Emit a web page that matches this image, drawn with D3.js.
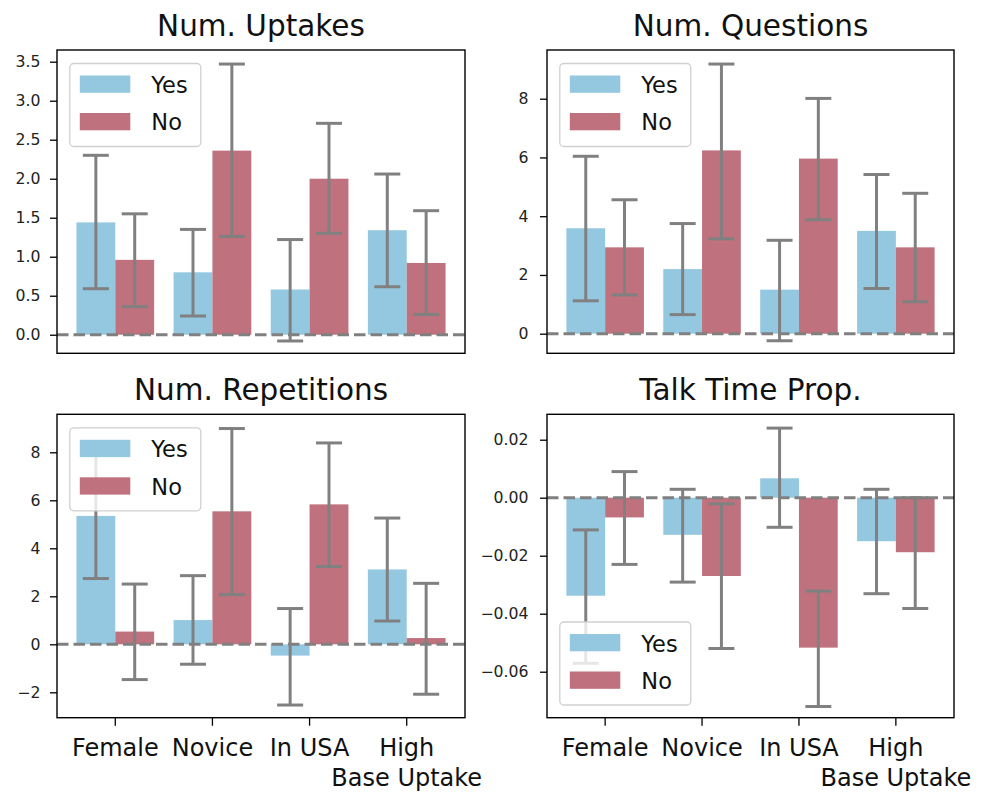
<!DOCTYPE html>
<html>
<head>
<meta charset="utf-8">
<script src="https://cdn.jsdelivr.net/npm/d3@7"></script>
<style>
  html, body { margin: 0; padding: 0; background: #ffffff; }
  svg { display: block; font-family: "DejaVu Sans", sans-serif; }
</style>
</head>
<body>
<div id="chart"></div>
<script>
// ---------------- DATA ----------------
const categories = ["Female", "Novice", "In USA", "High\nBase Uptake"];
const groups = ["Yes", "No"];
const panelTitles = ["Num. Uptakes", "Num. Questions", "Num. Repetitions", "Talk Time Prop."];

// Num. Uptakes
const uptakesYes   = [1.44, 0.80, 0.58, 1.34];
const uptakesYesLo = [0.59, 0.24, -0.08, 0.615];
const uptakesYesHi = [2.30, 1.35, 1.22, 2.06];
const uptakesNo    = [0.96, 2.36, 2.00, 0.92];
const uptakesNoLo  = [0.36, 1.26, 1.30, 0.26];
const uptakesNoHi  = [1.55, 3.47, 2.71, 1.59];

// Num. Questions
const questionsYes   = [3.59, 2.20, 1.50, 3.50];
const questionsYesLo = [1.12, 0.65, -0.24, 1.54];
const questionsYesHi = [6.04, 3.75, 3.18, 5.42];
const questionsNo    = [2.94, 6.24, 5.96, 2.94];
const questionsNoLo  = [1.32, 3.23, 3.88, 1.09];
const questionsNoHi  = [4.56, 9.18, 8.01, 4.78];

// Num. Repetitions
const repetitionsYes   = [5.35, 1.01, -0.47, 3.12];
const repetitionsYesLo = [2.74, -0.83, -2.53, 0.97];
const repetitionsYesHi = [8.10, 2.86, 1.49, 5.26];
const repetitionsNo    = [0.53, 5.54, 5.83, 0.26];
const repetitionsNoLo  = [-1.47, 2.07, 3.24, -2.08];
const repetitionsNoHi  = [2.51, 8.99, 8.39, 2.54];

// Talk Time Prop.
const talkYes   = [-0.0338, -0.0128, 0.0067, -0.0150];
const talkYesLo = [-0.0571, -0.0291, -0.0102, -0.0331];
const talkYesHi = [-0.0111, 0.0029, 0.0240, 0.0029];
const talkNo    = [-0.0068, -0.0270, -0.0517, -0.0188];
const talkNoLo  = [-0.0230, -0.0520, -0.0720, -0.0382];
const talkNoHi  = [0.0090, -0.0021, -0.0322, 0.0000];

// Tick values per panel
const uptakesTicks = [0, 0.5, 1.0, 1.5, 2.0, 2.5, 3.0, 3.5];
const questionsTicks = [0, 2, 4, 6, 8];
const repetitionsTicks = [-2, 0, 2, 4, 6, 8];
const talkTicks = [-0.06, -0.04, -0.02, 0.00, 0.02];

// Axis limits per panel
const uptakesDomain = [-0.238, 3.65];
const questionsDomain = [-0.667, 9.658];
const repetitionsDomain = [-3.058, 9.583];
const talkDomain = [-0.07586, 0.02876];

// ---------------- STYLE / LAYOUT ----------------
const W = 982, H = 796;
const colors = { Yes: "#94c8e1", No: "#bf717d" };
const errColor = "#808080";
const fmtMinus = s => s.replace("-", "\u2212");

const panels = [
  { title: panelTitles[0], yes: uptakesYes, yesLo: uptakesYesLo, yesHi: uptakesYesHi,
    no: uptakesNo, noLo: uptakesNoLo, noHi: uptakesNoHi, ticks: uptakesTicks, domain: uptakesDomain,
    fmt: d3.format(".1f"), x0: 57, x1: 465, y0: 50, y1: 353.3, bottom: false, legend: "upper" },
  { title: panelTitles[1], yes: questionsYes, yesLo: questionsYesLo, yesHi: questionsYesHi,
    no: questionsNo, noLo: questionsNoLo, noHi: questionsNoHi, ticks: questionsTicks, domain: questionsDomain,
    fmt: d3.format("d"), x0: 547, x1: 954, y0: 50, y1: 353.3, bottom: false, legend: "upper" },
  { title: panelTitles[2], yes: repetitionsYes, yesLo: repetitionsYesLo, yesHi: repetitionsYesHi,
    no: repetitionsNo, noLo: repetitionsNoLo, noHi: repetitionsNoHi, ticks: repetitionsTicks, domain: repetitionsDomain,
    fmt: d3.format("d"), x0: 57, x1: 465, y0: 414.3, y1: 717.7, bottom: true, legend: "upper" },
  { title: panelTitles[3], yes: talkYes, yesLo: talkYesLo, yesHi: talkYesHi,
    no: talkNo, noLo: talkNoLo, noHi: talkNoHi, ticks: talkTicks, domain: talkDomain,
    fmt: d3.format(".2f"), x0: 547, x1: 954, y0: 414.3, y1: 717.7, bottom: true, legend: "lower" }
];

const svg = d3.select("#chart").append("svg")
  .attr("width", W).attr("height", H);

panels.forEach(p => {
  const g = svg.append("g");

  const x = d3.scaleBand().domain(categories).range([p.x0, p.x1])
    .paddingInner(0.2).paddingOuter(0.2);
  const xs = d3.scaleBand().domain(groups).range([0, x.bandwidth()]);
  const y = d3.scaleLinear().domain(p.domain).range([p.y1, p.y0]);

  const rows = [];
  categories.forEach((c, i) => {
    rows.push({ cat: c, grp: "Yes", v: p.yes[i], lo: p.yesLo[i], hi: p.yesHi[i] });
    rows.push({ cat: c, grp: "No", v: p.no[i], lo: p.noLo[i], hi: p.noHi[i] });
  });

  // bars
  g.append("g").selectAll("rect").data(rows).join("rect")
    .attr("x", d => x(d.cat) + xs(d.grp))
    .attr("width", xs.bandwidth())
    .attr("y", d => Math.min(y(d.v), y(0)))
    .attr("height", d => Math.abs(y(d.v) - y(0)))
    .attr("fill", d => colors[d.grp]);

  // zero dashed line
  g.append("line")
    .attr("x1", p.x0).attr("x2", p.x1)
    .attr("y1", y(0)).attr("y2", y(0))
    .attr("stroke", errColor).attr("stroke-width", 3)
    .attr("stroke-dasharray", "11.5,5");

  // error bars
  const eb = g.append("g").attr("stroke", errColor).attr("stroke-width", 3).attr("fill", "none");
  rows.forEach(d => {
    const cx = x(d.cat) + xs(d.grp) + xs.bandwidth() / 2;
    eb.append("line").attr("x1", cx).attr("x2", cx).attr("y1", y(d.lo)).attr("y2", y(d.hi));
    eb.append("line").attr("x1", cx - 13).attr("x2", cx + 13).attr("y1", y(d.lo)).attr("y2", y(d.lo));
    eb.append("line").attr("x1", cx - 13).attr("x2", cx + 13).attr("y1", y(d.hi)).attr("y2", y(d.hi));
  });

  // y axis
  const yAxis = d3.axisLeft(y).tickValues(p.ticks).tickSize(7).tickPadding(8)
    .tickFormat(d => fmtMinus(p.fmt(d)));
  const ya = g.append("g").attr("transform", `translate(${p.x0},0)`).call(yAxis);
  ya.select(".domain").remove();
  ya.selectAll(".tick line").attr("stroke", "#000").attr("stroke-width", 1.3);
  ya.selectAll(".tick text").attr("font-size", "15.7px").attr("fill", "#222")
    .attr("font-family", "DejaVu Sans");
  if (p.x0 > 500) ya.selectAll(".tick text").attr("x", -18.5);
  else ya.selectAll(".tick text").attr("x", -16.5);

  // x axis (bottom row only)
  if (p.bottom) {
    const xAxis = d3.axisBottom(x).tickSize(8).tickFormat("");
    const xa = g.append("g").attr("transform", `translate(0,${p.y1})`).call(xAxis);
    xa.select(".domain").remove();
    xa.selectAll(".tick line").attr("stroke", "#000").attr("stroke-width", 1.3);
    categories.forEach(c => {
      const lines = c.split("\n");
      const t = g.append("text")
        .attr("x", x(c) + x.bandwidth() / 2)
        .attr("y", p.y1 + 38.5)
        .attr("text-anchor", "middle")
        .attr("font-size", "24px")
        .attr("fill", "#111");
      lines.forEach((ln, k) => {
        t.append("tspan").attr("x", x(c) + x.bandwidth() / 2)
          .attr("dy", k === 0 ? 0 : 29.5).text(ln);
      });
    });
  }

  // frame
  g.append("rect")
    .attr("x", p.x0).attr("y", p.y0)
    .attr("width", p.x1 - p.x0).attr("height", p.y1 - p.y0)
    .attr("fill", "none").attr("stroke", "#000").attr("stroke-width", 1.4);

  // title
  g.append("text")
    .attr("x", (p.x0 + p.x1) / 2).attr("y", p.y0 - 14)
    .attr("text-anchor", "middle")
    .attr("font-size", "29.5px").attr("fill", "#111")
    .text(p.title);

  // legend
  const lw = 131, lh = 83;
  const lx = p.x0 + 12.8;
  const ly = p.legend === "upper" ? p.y0 + 13.5 : p.y1 - 12.7 - lh;
  const lg = g.append("g").attr("transform", `translate(${lx},${ly})`);
  lg.append("rect").attr("x", 0).attr("y", 0).attr("width", lw).attr("height", lh)
    .attr("rx", 4).attr("ry", 4)
    .attr("fill", "#ffffff").attr("fill-opacity", 0.8)
    .attr("stroke", "#d0d0d0").attr("stroke-width", 1.3);
  groups.forEach((gr, k) => {
    lg.append("rect").attr("x", 10).attr("y", 12 + k * 37.5)
      .attr("width", 50.5).attr("height", 17.3)
      .attr("fill", colors[gr]);
    lg.append("text").attr("x", 81.5).attr("y", 29.5 + k * 37.3)
      .attr("font-size", "22.5px").attr("fill", "#111")
      .text(gr);
  });
});
</script>
</body>
</html>
